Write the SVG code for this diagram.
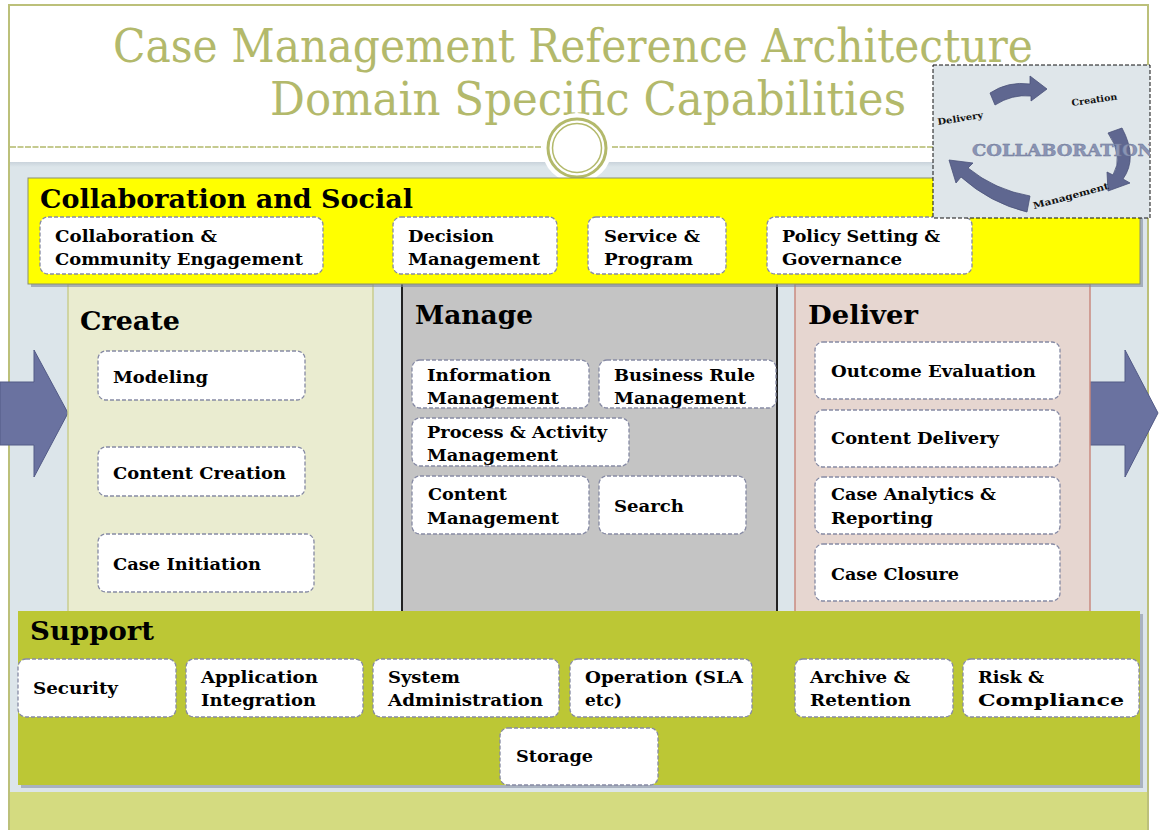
<svg xmlns="http://www.w3.org/2000/svg" width="1159" height="830" viewBox="0 0 1159 830">
  <defs>
    <style>
      .title { font-family: "DejaVu Serif", "Liberation Serif", serif; font-size: 46px; fill: #b3b96b; }
      .head { font-family: "DejaVu Serif", "Liberation Serif", serif; font-weight: bold; font-size: 26px; fill: #000; }
      .lbl { font-family: "DejaVu Serif", "Liberation Serif", serif; font-weight: bold; font-size: 17.5px; fill: #000; }
      .box { fill: #fff; stroke: #868aa4; stroke-width: 1.3; stroke-dasharray: 4 2; }
      .arrow { fill: #6a72a0; stroke: #525a86; stroke-width: 1; }
      .cyc { fill: #5f6790; stroke: #4a5278; stroke-width: 0.8; }
      .cyclbl { font-family: "DejaVu Serif", "Liberation Serif", serif; font-weight: bold; font-size: 9px; fill: #111; }
      .collab { font-family: "DejaVu Serif", "Liberation Serif", serif; font-weight: bold; font-size: 16px; fill: #8a94b4; stroke: #6f7898; stroke-width: 0.4; }
    </style>
    <clipPath id="picClip">
      <rect x="933" y="65" width="217" height="153"/>
    </clipPath>
    <linearGradient id="bandTop" x1="0" y1="0" x2="0" y2="1">
      <stop offset="0" stop-color="#c9d3db"/>
      <stop offset="1" stop-color="#dce5ea"/>
    </linearGradient>
  </defs>

  <!-- page background and frame -->
  <rect x="0" y="0" width="1159" height="830" fill="#ffffff"/>
  <rect x="9" y="162" width="1139" height="630" fill="#dce5ea"/>
  <rect x="9" y="162" width="1139" height="5" fill="url(#bandTop)"/>
  <rect x="9" y="792" width="1139" height="40" fill="#d4db80"/>
  <path d="M9,840 V5 H1148 V840" fill="none" stroke="#bcc07a" stroke-width="2"/>

  <!-- title -->
  <g id="title">
    <text class="title" x="113" y="62" textLength="920" lengthAdjust="spacingAndGlyphs">Case Management Reference Architecture</text>
    <text class="title" x="270" y="115" textLength="636" lengthAdjust="spacingAndGlyphs">Domain Specific Capabilities</text>
  </g>

  <!-- divider with ring -->
  <g id="divider">
    <line x1="10" y1="147" x2="543" y2="147" stroke="#b3b96b" stroke-width="1.5" stroke-dasharray="6 1.5"/>
    <line x1="612" y1="147" x2="933" y2="147" stroke="#b3b96b" stroke-width="1.5" stroke-dasharray="6 1.5"/>
    <circle cx="577" cy="148" r="35" fill="#ffffff"/>
    <circle cx="577" cy="148" r="29" fill="#ffffff" stroke="#b3b96b" stroke-width="3"/>
    <circle cx="577" cy="148" r="24.5" fill="none" stroke="#b3b96b" stroke-width="1.5"/>
  </g>

  <!-- flow arrows -->
  <g id="arrow-in">
    <path class="arrow" d="M0,382 H34 V350 L68,413 L34,477 V445 H0 Z"/>
  </g>
  <g id="arrow-out">
    <path class="arrow" d="M1090,382 H1125 V350 L1158,413 L1125,477 V445 H1090 Z"/>
  </g>

  <!-- columns -->
  <g id="create">
    <rect x="68" y="284" width="305" height="328" fill="#eaecd0" stroke="#c9cd8e" stroke-width="1.5"/>
    <text class="head" x="80" y="330" textLength="100" lengthAdjust="spacingAndGlyphs">Create</text>
    <g id="modeling">
      <rect class="box" x="98" y="351" width="207" height="49" rx="8"/>
      <text class="lbl" x="113" y="383" textLength="95" lengthAdjust="spacingAndGlyphs">Modeling</text>
    </g>
    <g id="content-creation">
      <rect class="box" x="98" y="447" width="207" height="49" rx="8"/>
      <text class="lbl" x="113" y="479" textLength="173" lengthAdjust="spacingAndGlyphs">Content Creation</text>
    </g>
    <g id="case-initiation">
      <rect class="box" x="98" y="534" width="216" height="58" rx="8"/>
      <text class="lbl" x="113" y="570" textLength="148" lengthAdjust="spacingAndGlyphs">Case Initiation</text>
    </g>
  </g>

  <g id="manage">
    <rect x="402" y="284" width="375" height="328" fill="#c4c4c4"/>
    <line x1="402" y1="284" x2="402" y2="612" stroke="#222" stroke-width="2"/>
    <line x1="777" y1="284" x2="777" y2="612" stroke="#222" stroke-width="2"/>
    <text class="head" x="415" y="324" textLength="118" lengthAdjust="spacingAndGlyphs">Manage</text>
    <g id="information-management">
      <rect class="box" x="412" y="360" width="177" height="48" rx="8"/>
      <text class="lbl" x="427" y="381" textLength="124" lengthAdjust="spacingAndGlyphs">Information</text>
      <text class="lbl" x="427" y="404" textLength="132" lengthAdjust="spacingAndGlyphs">Management</text>
    </g>
    <g id="business-rule-management">
      <rect class="box" x="599" y="360" width="177" height="48" rx="8"/>
      <text class="lbl" x="614" y="381" textLength="141" lengthAdjust="spacingAndGlyphs">Business Rule</text>
      <text class="lbl" x="614" y="404" textLength="132" lengthAdjust="spacingAndGlyphs">Management</text>
    </g>
    <g id="process-activity-management">
      <rect class="box" x="412" y="418" width="217" height="48" rx="8"/>
      <text class="lbl" x="427" y="438" textLength="180" lengthAdjust="spacingAndGlyphs">Process &amp; Activity</text>
      <text class="lbl" x="427" y="461" textLength="131" lengthAdjust="spacingAndGlyphs">Management</text>
    </g>
    <g id="content-management">
      <rect class="box" x="412" y="476" width="177" height="58" rx="8"/>
      <text class="lbl" x="428" y="500" textLength="79" lengthAdjust="spacingAndGlyphs">Content</text>
      <text class="lbl" x="427" y="524" textLength="132" lengthAdjust="spacingAndGlyphs">Management</text>
    </g>
    <g id="search">
      <rect class="box" x="599" y="476" width="147" height="58" rx="8"/>
      <text class="lbl" x="614" y="512" textLength="70" lengthAdjust="spacingAndGlyphs">Search</text>
    </g>
  </g>

  <g id="deliver">
    <rect x="795" y="284" width="295" height="328" fill="#e6d6d0" stroke="#c98a80" stroke-width="1.5"/>
    <text class="head" x="808" y="324" textLength="110" lengthAdjust="spacingAndGlyphs">Deliver</text>
    <g id="outcome-evaluation">
      <rect class="box" x="815" y="342" width="245" height="57" rx="8"/>
      <text class="lbl" x="831" y="377" textLength="205" lengthAdjust="spacingAndGlyphs">Outcome Evaluation</text>
    </g>
    <g id="content-delivery">
      <rect class="box" x="815" y="410" width="245" height="57" rx="8"/>
      <text class="lbl" x="831" y="444" textLength="168" lengthAdjust="spacingAndGlyphs">Content Delivery</text>
    </g>
    <g id="case-analytics">
      <rect class="box" x="815" y="477" width="245" height="57" rx="8"/>
      <text class="lbl" x="831" y="500" textLength="165" lengthAdjust="spacingAndGlyphs">Case Analytics &amp;</text>
      <text class="lbl" x="831" y="524" textLength="102" lengthAdjust="spacingAndGlyphs">Reporting</text>
    </g>
    <g id="case-closure">
      <rect class="box" x="815" y="544" width="245" height="57" rx="8"/>
      <text class="lbl" x="831" y="580" textLength="128" lengthAdjust="spacingAndGlyphs">Case Closure</text>
    </g>
  </g>

  <!-- collaboration layer -->
  <g id="collaboration-social">
    <rect x="31" y="181" width="1112" height="106" fill="#7f889c" opacity="0.6"/>
    <rect x="28" y="178" width="1112" height="106" fill="#ffff00" stroke="#8a8f70" stroke-width="1"/>
    <text class="head" x="40" y="208" textLength="373" lengthAdjust="spacingAndGlyphs">Collaboration and Social</text>
    <g id="collab-community">
      <rect class="box" x="40" y="217" width="283" height="57" rx="8"/>
      <text class="lbl" x="55" y="242" textLength="162" lengthAdjust="spacingAndGlyphs">Collaboration &amp;</text>
      <text class="lbl" x="55" y="265" textLength="248" lengthAdjust="spacingAndGlyphs">Community Engagement</text>
    </g>
    <g id="decision-management">
      <rect class="box" x="393" y="217" width="164" height="57" rx="8"/>
      <text class="lbl" x="408" y="242" textLength="86" lengthAdjust="spacingAndGlyphs">Decision</text>
      <text class="lbl" x="408" y="265" textLength="132" lengthAdjust="spacingAndGlyphs">Management</text>
    </g>
    <g id="service-program">
      <rect class="box" x="588" y="217" width="138" height="57" rx="8"/>
      <text class="lbl" x="604" y="242" textLength="96" lengthAdjust="spacingAndGlyphs">Service &amp;</text>
      <text class="lbl" x="604" y="265" textLength="89" lengthAdjust="spacingAndGlyphs">Program</text>
    </g>
    <g id="policy-governance">
      <rect class="box" x="767" y="217" width="205" height="57" rx="8"/>
      <text class="lbl" x="782" y="242" textLength="158" lengthAdjust="spacingAndGlyphs">Policy Setting &amp;</text>
      <text class="lbl" x="782" y="265" textLength="120" lengthAdjust="spacingAndGlyphs">Governance</text>
    </g>
  </g>

  <!-- collaboration cycle picture -->
  <g id="collaboration-cycle">
    <rect x="933" y="65" width="217" height="153" fill="#dfe6ea" stroke="#111" stroke-width="1" stroke-dasharray="4 2"/>
    <g clip-path="url(#picClip)">
      <path class="cyc" d="M990,93 Q1008,81 1030,84 L1030,76 L1047,89 L1031,101 L1031,96 Q1012,94 995,105 Z"/>
      <path class="cyc" d="M1108,133 L1122,128 Q1138,158 1123,179 L1130,183 L1108,191 L1107,172 L1113,175 Q1124,156 1108,133 Z"/>
      <path class="cyc" d="M1030,196 Q995,190 968,168 L973,163 L949,160 L956,183 L961,177 Q990,203 1027,212 Z"/>
      <text class="collab" x="972" y="156" textLength="182" lengthAdjust="spacingAndGlyphs">COLLABORATION</text>
      <text class="cyclbl" x="938" y="125" transform="rotate(-9 938 125)" textLength="46" lengthAdjust="spacingAndGlyphs">Delivery</text>
      <text class="cyclbl" x="1072" y="106" transform="rotate(-8 1072 106)" textLength="46" lengthAdjust="spacingAndGlyphs">Creation</text>
      <text class="cyclbl" x="1034" y="209" font-size="10" transform="rotate(-15 1034 209)" textLength="78" lengthAdjust="spacingAndGlyphs">Management</text>
    </g>
  </g>

  <!-- support layer -->
  <g id="support">
    <rect x="21" y="614" width="1122" height="174" fill="#7f889c" opacity="0.55"/>
    <rect x="18" y="611" width="1122" height="174" fill="#bcc735"/>
    <text class="head" x="30" y="640" textLength="124" lengthAdjust="spacingAndGlyphs">Support</text>
    <g id="security">
      <rect class="box" x="18" y="659" width="158" height="58" rx="8"/>
      <text class="lbl" x="33" y="694" textLength="85" lengthAdjust="spacingAndGlyphs">Security</text>
    </g>
    <g id="application-integration">
      <rect class="box" x="186" y="659" width="177" height="58" rx="8"/>
      <text class="lbl" x="201" y="683" textLength="117" lengthAdjust="spacingAndGlyphs">Application</text>
      <text class="lbl" x="201" y="706" textLength="115" lengthAdjust="spacingAndGlyphs">Integration</text>
    </g>
    <g id="system-administration">
      <rect class="box" x="373" y="659" width="186" height="58" rx="8"/>
      <text class="lbl" x="388" y="683" textLength="72" lengthAdjust="spacingAndGlyphs">System</text>
      <text class="lbl" x="388" y="706" textLength="155" lengthAdjust="spacingAndGlyphs">Administration</text>
    </g>
    <g id="operation">
      <rect class="box" x="570" y="659" width="182" height="58" rx="8"/>
      <text class="lbl" x="585" y="683" textLength="158" lengthAdjust="spacingAndGlyphs">Operation (SLA</text>
      <text class="lbl" x="585" y="706" textLength="37" lengthAdjust="spacingAndGlyphs">etc)</text>
    </g>
    <g id="archive-retention">
      <rect class="box" x="795" y="659" width="158" height="58" rx="8"/>
      <text class="lbl" x="810" y="683" textLength="100" lengthAdjust="spacingAndGlyphs">Archive &amp;</text>
      <text class="lbl" x="810" y="706" textLength="101" lengthAdjust="spacingAndGlyphs">Retention</text>
    </g>
    <g id="risk-compliance">
      <rect class="box" x="963" y="659" width="176" height="58" rx="8"/>
      <text class="lbl" x="978" y="683" textLength="66" lengthAdjust="spacingAndGlyphs">Risk &amp;</text>
      <text class="lbl" x="978" y="706" textLength="146" lengthAdjust="spacingAndGlyphs">Compliance</text>
    </g>
    <g id="storage">
      <rect class="box" x="500" y="728" width="158" height="57" rx="8"/>
      <text class="lbl" x="516" y="762" textLength="77" lengthAdjust="spacingAndGlyphs">Storage</text>
    </g>
  </g>
</svg>
